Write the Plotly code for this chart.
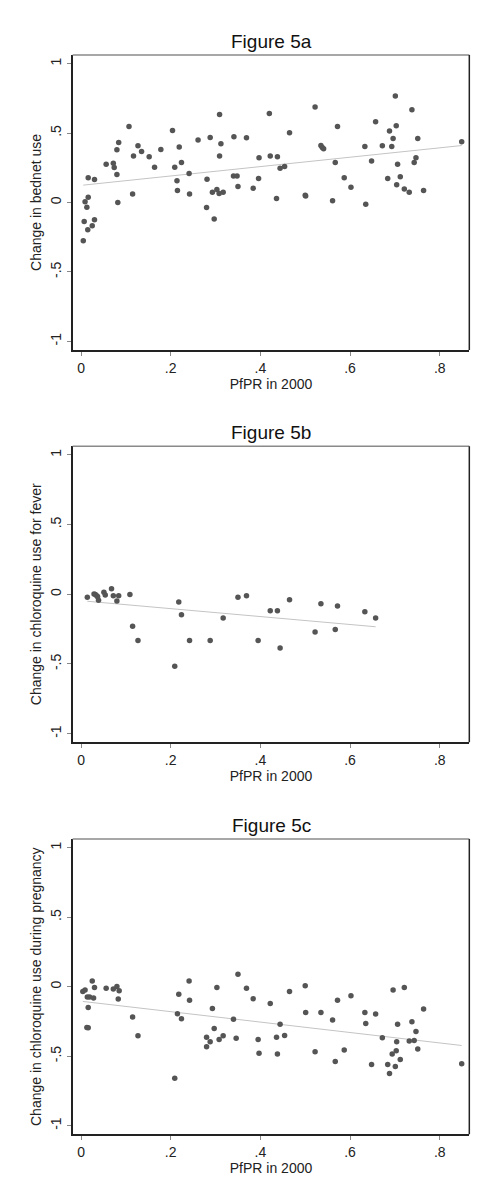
import plotly.graph_objs as go

# Figure 5a: change in bednet use vs PfPR in 2000
pfpr_a = [0.005, 0.007, 0.009, 0.013, 0.015, 0.016, 0.016, 0.025, 0.030, 0.030,
          0.056, 0.072, 0.074, 0.080, 0.080, 0.082, 0.084, 0.107, 0.115, 0.117,
          0.127, 0.135, 0.152, 0.164, 0.178, 0.204, 0.209, 0.214, 0.215, 0.219,
          0.224, 0.241, 0.242, 0.261, 0.280, 0.281, 0.288, 0.293, 0.297, 0.303,
          0.308, 0.309, 0.309, 0.312, 0.317, 0.341, 0.340, 0.348, 0.350, 0.369,
          0.384, 0.396, 0.397, 0.420, 0.422, 0.436, 0.438, 0.444, 0.454, 0.465,
          0.500, 0.501, 0.522, 0.535, 0.538, 0.541, 0.561, 0.567, 0.572, 0.587,
          0.602, 0.633, 0.635, 0.648, 0.657, 0.672, 0.684, 0.688, 0.693, 0.696,
          0.701, 0.703, 0.704, 0.706, 0.712, 0.721, 0.732, 0.738, 0.743, 0.747,
          0.751, 0.764, 0.849]
bednet = [-0.276, -0.137, 0.005, -0.034, -0.197, 0.178, 0.038, -0.168, -0.125, 0.166,
          0.276, 0.283, 0.252, 0.202, 0.379, 0.000, 0.432, 0.547, 0.062, 0.334,
          0.408, 0.367, 0.329, 0.254, 0.382, 0.519, 0.254, 0.156, 0.086, 0.399,
          0.288, 0.209, 0.062, 0.449, -0.036, 0.168, 0.468, 0.074, -0.118, 0.094,
          0.065, 0.634, 0.334, 0.423, 0.074, 0.473, 0.190, 0.190, 0.115, 0.466,
          0.103, 0.173, 0.322, 0.641, 0.334, 0.029, 0.329, 0.247, 0.259, 0.502,
          0.053, 0.046, 0.687, 0.411, 0.396, 0.387, 0.012, 0.288, 0.547, 0.178,
          0.110, 0.403, -0.012, 0.298, 0.581, 0.408, 0.173, 0.514, 0.403, 0.461,
          0.766, 0.552, 0.127, 0.276, 0.185, 0.098, 0.074, 0.667, 0.288, 0.322,
          0.461, 0.086, 0.437]
fit_a_x = [0.005, 0.849]
fit_a_y = [0.125, 0.410]

# Figure 5b: change in chloroquine use for fever
pfpr_b = [0.014, 0.029, 0.032, 0.035, 0.037, 0.039, 0.051, 0.054, 0.068, 0.072,
          0.080, 0.084, 0.109, 0.115, 0.127, 0.209, 0.218, 0.224, 0.242, 0.288,
          0.317, 0.350, 0.369, 0.395, 0.422, 0.438, 0.444, 0.465, 0.522, 0.535,
          0.567, 0.572, 0.633, 0.657]
fever = [-0.022, 0.002, -0.002, -0.010, -0.017, -0.043, 0.014, -0.005, 0.039, -0.010,
         -0.048, -0.010, -0.002, -0.229, -0.332, -0.517, -0.055, -0.147, -0.332, -0.332,
         -0.171, -0.022, -0.010, -0.332, -0.118, -0.118, -0.385, -0.039, -0.270, -0.067,
         -0.253, -0.084, -0.125, -0.171]
fit_b_x = [0.014, 0.657]
fit_b_y = [-0.050, -0.233]

# Figure 5c: change in chloroquine use during pregnancy
pfpr_c = [0.004, 0.009, 0.013, 0.016, 0.014, 0.016, 0.019, 0.025, 0.030, 0.028,
          0.056, 0.072, 0.080, 0.083, 0.085, 0.115, 0.127, 0.209, 0.215, 0.218,
          0.224, 0.241, 0.242, 0.280, 0.280, 0.288, 0.293, 0.297, 0.303, 0.308,
          0.317, 0.340, 0.346, 0.350, 0.369, 0.384, 0.395, 0.397, 0.422, 0.436,
          0.438, 0.444, 0.454, 0.465, 0.500, 0.501, 0.522, 0.535, 0.561, 0.567,
          0.572, 0.587, 0.602, 0.633, 0.635, 0.648, 0.657, 0.672, 0.684, 0.688,
          0.694, 0.696, 0.701, 0.703, 0.704, 0.706, 0.712, 0.721, 0.732, 0.738,
          0.743, 0.747, 0.751, 0.764, 0.849]
pregnancy = [-0.034, -0.024, -0.293, -0.295, -0.074, -0.149, -0.074, 0.041, -0.005, -0.082,
             -0.012, -0.017, 0.002, -0.089, -0.029, -0.218, -0.353, -0.658, -0.194, -0.055,
             -0.230, 0.041, -0.098, -0.363, -0.432, -0.396, -0.156, -0.300, -0.005, -0.379,
             -0.353, -0.235, -0.370, 0.089, -0.012, -0.086, -0.379, -0.478, -0.120, -0.363,
             -0.485, -0.271, -0.351, -0.034, 0.007, -0.185, -0.468, -0.185, -0.240, -0.538,
             -0.098, -0.456, -0.065, -0.185, -0.264, -0.559, -0.197, -0.367, -0.559, -0.624,
             -0.485, -0.024, -0.574, -0.461, -0.396, -0.271, -0.523, -0.005, -0.391, -0.252,
             -0.387, -0.322, -0.449, -0.161, -0.555]
fit_c_x = [0.004, 0.849]
fit_c_y = [-0.106, -0.423]

x_ticks = [0, 0.2, 0.4, 0.6, 0.8]
x_ticktext = ['0', '.2', '.4', '.6', '.8']
y_ticks = [-1, -0.5, 0, 0.5, 1]
y_ticktext = ['-1', '-.5', '0', '.5', '1']

# page body keeps its default 8px margin, so the figure is a bit smaller than the window
panels = [
    ('Figure 5a', 'Change in bednet use', pfpr_a, bednet, fit_a_x, fit_a_y, [0.7109, 0.9603]),
    ('Figure 5b', 'Change in chloroquine use for fever', pfpr_b, fever, fit_b_x, fit_b_y, [0.3793, 0.6295]),
    ('Figure 5c', 'Change in chloroquine use during pregnancy', pfpr_c, pregnancy, fit_c_x, fit_c_y, [0.0479, 0.2975]),
]

FONT = 'Liberation Sans, Arial, sans-serif'
x_dom = [0.1362, 0.9712]

fig = go.Figure()
layout = dict(
    width=475, height=1183,
    margin=dict(l=0, r=0, t=0, b=0),
    paper_bgcolor='white', plot_bgcolor='white',
    showlegend=False,
    font=dict(family=FONT, size=14, color='#222'),
    shapes=[], annotations=[],
)

for i, (title, ytitle, xs, ys, fx, fy, ydom) in enumerate(panels):
    n = '' if i == 0 else str(i + 1)
    xa, ya = 'x' + n, 'y' + n
    fig.add_trace(go.Scatter(x=fx, y=fy, mode='lines', xaxis=xa, yaxis=ya,
                             line=dict(color='#c4c4c4', width=1), hoverinfo='skip'))
    fig.add_trace(go.Scatter(x=xs, y=ys, mode='markers', xaxis=xa, yaxis=ya,
                             marker=dict(color='#555555', size=5.5, symbol='circle')))
    layout['xaxis' + n] = dict(
        domain=x_dom, anchor=ya, range=[-0.0186, 0.866],
        tickvals=x_ticks, ticktext=x_ticktext, ticks='outside', ticklen=4,
        tickcolor='#888', tickfont=dict(size=14, color='#222'),
        showgrid=False, zeroline=False, showline=True, linecolor='#222', linewidth=1.5,
        title=dict(text='PfPR in 2000', font=dict(size=14, color='#222'), standoff=0),
    )
    layout['yaxis' + n] = dict(
        domain=ydom, anchor=xa, range=[-1.062, 1.062],
        tickvals=y_ticks, ticktext=y_ticktext, ticks='outside', ticklen=4,
        tickcolor='#888', tickangle=-90, tickfont=dict(size=14, color='#222'),
        showgrid=False, zeroline=False, showline=True, linecolor='#222', linewidth=1.5,
        title=dict(text=ytitle, font=dict(size=14, color='#222'), standoff=3),
    )
    # box around the plot region: top edge grey, right edge dark
    layout['shapes'].append(dict(type='line', xref='paper', yref='paper',
                                 x0=x_dom[0], x1=x_dom[1], y0=ydom[1], y1=ydom[1],
                                 line=dict(color='#8a8a8a', width=1.5)))
    layout['shapes'].append(dict(type='line', xref='paper', yref='paper',
                                 x0=x_dom[1], x1=x_dom[1], y0=ydom[0], y1=ydom[1],
                                 line=dict(color='#222', width=1.5)))
    layout['annotations'].append(dict(text=title, xref='paper', yref='paper',
                                      x=(x_dom[0] + x_dom[1]) / 2, y=ydom[1] + 0.001,
                                      xanchor='center', yanchor='bottom', showarrow=False,
                                      font=dict(size=19, color='#111')))

fig.update_layout(**layout)
fig.write_html('out.html')
